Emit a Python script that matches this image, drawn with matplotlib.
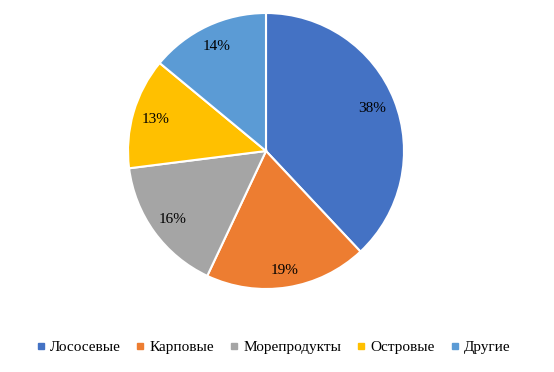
import matplotlib.pyplot as plt
from matplotlib.lines import Line2D

categories = ['Лососевые', 'Карповые', 'Морепродукты', 'Островые', 'Другие']
shares = [38, 19, 16, 13, 14]
colors = ['#4472C4', '#ED7D31', '#A5A5A5', '#FFC000', '#5B9BD5']
label_dist = [0.83, 0.88, 0.84, 0.83, 0.84]

plt.rcParams['font.family'] = ['Liberation Serif', 'DejaVu Serif']

fig = plt.figure(figsize=(5.54, 3.72), dpi=100)
cx, cy, r = 266, 151, 138
ax = fig.add_axes([(cx - r) / 554, (372 - cy - r) / 372, 2 * r / 554, 2 * r / 372])

wedges, texts, autotexts = ax.pie(
    shares, colors=colors, startangle=90, counterclock=False,
    autopct='%d%%', pctdistance=1.0,
    wedgeprops=dict(edgecolor='white', linewidth=1.5),
    textprops=dict(fontsize=11, color='#000000'))
# excel "best fit" puts the labels at slightly different radii
for t, d in zip(autotexts, label_dist):
    x, y = t.get_position()
    t.set_position((x * d, y * d))
ax.set_xlim(-1, 1)
ax.set_ylim(-1, 1)
ax.set_aspect('equal')

handles = [Line2D([], [], marker='s', linestyle='none', markersize=4,
                  markerfacecolor=c, markeredgecolor=c) for c in colors]
fig.legend(handles, categories, loc='center', bbox_to_anchor=(0.493, 1 - 347 / 372),
           ncol=5, frameon=False, fontsize=11, handlelength=0.6,
           handletextpad=0.3, columnspacing=1.0)

fig.savefig('out.png', dpi=100)
